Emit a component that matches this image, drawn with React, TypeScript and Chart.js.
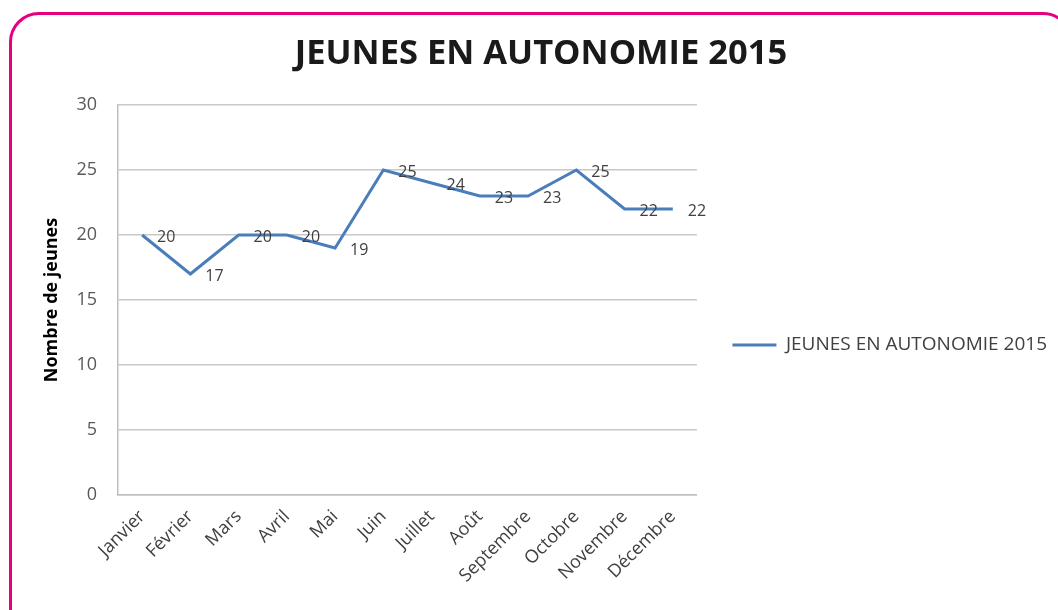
import React, { useEffect, useRef } from "react";
import { Chart, registerables } from "chart.js";

Chart.register(...registerables);

const TITLE = "JEUNES EN AUTONOMIE 2015";
const SERIES_NAME = "JEUNES EN AUTONOMIE 2015";
const Y_TITLE = "Nombre de jeunes";
const months = [
  "Janvier", "Février", "Mars", "Avril", "Mai", "Juin",
  "Juillet", "Août", "Septembre", "Octobre", "Novembre", "Décembre",
];
const values = [20, 17, 20, 20, 19, 25, 24, 23, 23, 25, 22, 22];
const yTicks = [0, 5, 10, 15, 20, 25, 30];

const FONT = "'Open Sans', 'DejaVu Sans', sans-serif";
const LINE_COLOR = "#4a7ebb";

const dataLabels = {
  id: "dataLabels",
  afterDatasetsDraw(chart: any) {
    const ctx = chart.ctx;
    const meta = chart.getDatasetMeta(0);
    ctx.save();
    ctx.font = `16px ${FONT}`;
    ctx.fillStyle = "#404040";
    ctx.textAlign = "left";
    ctx.textBaseline = "middle";
    meta.data.forEach((pt: any, i: number) => {
      ctx.fillText(String(values[i]), pt.x + 15, pt.y + 2);
    });
    ctx.restore();
  },
};

export default function App() {
  const ref = useRef<HTMLCanvasElement | null>(null);

  useEffect(() => {
    if (!ref.current) return;
    const chart = new Chart(ref.current, {
      type: "line",
      data: {
        labels: months,
        datasets: [
          {
            label: SERIES_NAME,
            data: values,
            borderColor: LINE_COLOR,
            backgroundColor: LINE_COLOR,
            borderWidth: 3,
            pointRadius: 0,
            tension: 0,
          },
        ],
      },
      options: {
        responsive: false,
        animation: false,
        layout: { padding: { left: 25, right: 1, top: 18, bottom: 0 } },
        plugins: {
          title: {
            display: true,
            text: TITLE,
            color: "#1a1a1a",
            font: { family: FONT, size: 34.5, weight: "bold" },
            padding: { top: 15, bottom: 30.6 },
          },
          legend: {
            position: "right",
            maxWidth: 500,
            title: {
              display: true,
              text: " ",
              font: { family: FONT, size: 10 },
              padding: { top: 50, bottom: 0 },
            },
            labels: {
              usePointStyle: true,
              pointStyle: "line",
              pointStyleWidth: 44,
              boxHeight: 3,
              padding: 35.5,
              color: "#404040",
              font: { family: FONT, size: 19 },
            },
          },
          tooltip: { enabled: false },
        },
        scales: {
          x: {
            offset: true,
            afterFit: (s: any) => {
              s.height = 115;
            },
            grid: { display: false, drawTicks: false },
            border: { display: true, color: "#bfbfbf", width: 1.5 },
            ticks: {
              color: "#404040",
              font: { family: FONT, size: 18 },
              maxRotation: 45,
              minRotation: 45,
              autoSkip: false,
              padding: 11,
            },
          },
          y: {
            min: 0,
            max: 30,
            afterFit: (s: any) => {
              s.width = 93;
            },
            afterBuildTicks: (s: any) => {
              s.ticks = yTicks.map((v) => ({ value: v }));
            },
            grid: { color: "#c8c8c8", lineWidth: 1.5, drawTicks: false },
            border: { display: true, color: "#bfbfbf", width: 1.5 },
            ticks: {
              color: "#595959",
              font: { family: FONT, size: 18 },
              padding: 21,
            },
            title: {
              display: true,
              text: Y_TITLE,
              color: "#000000",
              font: { family: FONT, size: 18, weight: "bold" },
              padding: { top: 16, bottom: 0 },
            },
          },
        },
      },
      plugins: [dataLabels],
    });
    return () => chart.destroy();
  }, []);

  return (
    <div style={{ position: "fixed", left: 0, top: 0, width: 1058, height: 610, overflow: "hidden", background: "#fff" }}>
      <div
        style={{
          position: "absolute",
          left: 9,
          top: 12,
          width: 1064,
          height: 640,
          border: "3px solid #e6007e",
          borderRadius: 30,
          boxSizing: "border-box",
        }}
      />
      <canvas ref={ref} width={1058} height={610} style={{ position: "absolute", left: 0, top: 0 }} />
    </div>
  );
}
